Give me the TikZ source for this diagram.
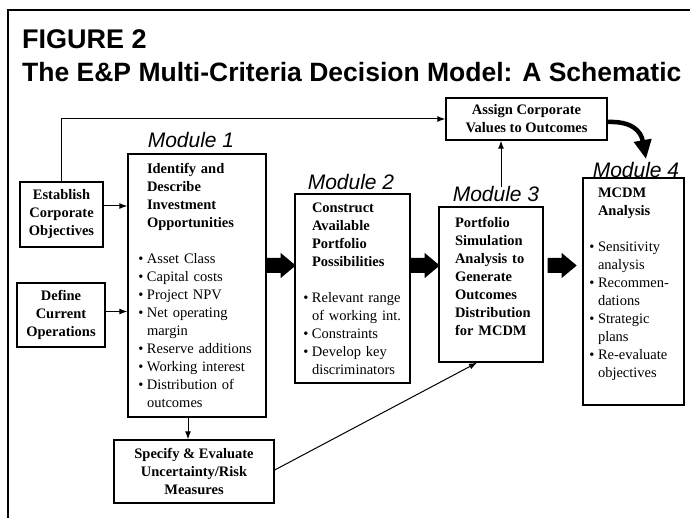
\documentclass[tikz,border=0pt]{standalone}
\usepackage{fontspec}
\setmainfont{Liberation Serif}
\newfontfamily\sansfam{Liberation Sans}
\usetikzlibrary{arrows.meta,calc}

% bullet item with hanging indent
\newcommand\bul{\par\noindent\llap{\textbullet\hspace{3.5pt}}}
\newcommand\tailgap[1]{\par\vspace{#1}\hrule height0pt width0pt}

\tikzset{
  frameline/.style={line width=2pt},
  box/.style={draw, line width=1.4pt, inner sep=0pt, align=center,
    font=\fontsize{14.5}{18}\selectfont\bfseries},
  modbox/.style={draw, line width=1.4pt, inner sep=0pt, align=left,
    font=\fontsize{14.5}{18}\selectfont},
  modlabel/.style={anchor=base, inner sep=0pt,
    font=\sansfam\itshape\fontsize{21}{24}\selectfont},
  heading/.style={anchor=base west, inner sep=0pt, font=\sansfam\bfseries},
  conn/.style={line width=1pt, -{Latex[length=8pt,width=6pt]}},
  bigcurve/.style={line width=4.5pt, -{Triangle[length=19pt,width=17pt]}},
  blockfill/.style={fill=black},
}

% thick block arrow starting at #1, pointing right
\newcommand\blockarrow[1]{%
  \fill[blockfill] (#1) ++(0,-7.5) -- ++(14,0) -- ++(0,-5) -- ++(15,12.5)
    -- ++(-15,12.5) -- ++(0,-5) -- ++(-14,0) -- cycle;}

\begin{document}
\begin{tikzpicture}[x=1pt,y=-1pt]
\useasboundingbox (0,0) rectangle (690,518);

% frame
\draw[frameline] (8,518) -- (8,10) -- (690,10);

% headings
\node[heading, font=\sansfam\bfseries\fontsize{27}{30}\selectfont] (fig) at (22,49) {FIGURE 2};
\node[heading, font=\sansfam\bfseries\fontsize{26.5}{30}\selectfont] (title) at (22,82)
  {The E\&P Multi-Criteria Decision Model: A Schematic};

% input boxes
\node[box, minimum width=83, minimum height=65] (est) at (61.5,214.5)
  {Establish\\Corporate\\Objectives};
\node[box, minimum width=88, minimum height=64] (def) at (61,315)
  {Define\\Current\\Operations};
\node[box, minimum width=160, minimum height=63] (spec) at (194,471.5)
  {Specify \& Evaluate\\Uncertainty/Risk\\Measures};
\node[box, minimum width=161, minimum height=42] (assign) at (526.5,119)
  {Assign Corporate\\Values to Outcomes};

% module boxes
\node[modbox, minimum width=138, minimum height=263, text width=122] (m1) at (197,285.5)
  {\leftskip=11pt
   {\bfseries Identify and\\Describe\\Investment\\Opportunities\par}
   \vspace{18pt}
   \bul Asset Class
   \bul Capital costs
   \bul Project NPV
   \bul Net operating\\margin
   \bul Reserve additions
   \bul Working interest
   \bul Distribution of\\outcomes\par};
\node[modbox, minimum width=115, minimum height=189, text width=101] (m2) at (352.5,288.5)
  {\leftskip=10pt
   {\bfseries Construct\\Available\\Portfolio\\Possibilities\par}
   \vspace{18pt}
   \bul Relevant range\\of working int.
   \bul Constraints
   \bul Develop key\\discriminators\par};
\node[modbox, minimum width=104, minimum height=155, text width=88] (m3) at (491,284.5)
  {\leftskip=8pt
   {\bfseries Portfolio\\Simulation\\Analysis to\\Generate\\Outcomes\\Distribution\\for MCDM\par}
   \tailgap{16pt}};
\node[modbox, minimum width=101, minimum height=227, text width=91] (m4) at (633.5,291.5)
  {\leftskip=10pt
   {\bfseries MCDM\\Analysis\par}
   \vspace{18pt}
   \bul Sensitivity\\analysis
   \bul Recommen-\\dations
   \bul Strategic\\plans
   \bul Re-evaluate\\objectives
   \tailgap{15pt}};

% module labels
\node[modlabel] (lab1) at (191,148) {Module 1};
\node[modlabel] (lab2) at (351,190) {Module 2};
\node[modlabel] (lab3) at (496,202) {Module 3};
\node[modlabel] (lab4) at (636,178) {Module 4};

% thin connectors
\draw[conn] (est.north) -- (est.north |- assign.west) -- (assign.west);
\draw[conn] ([yshift=8.5pt]est.east) -- ([yshift=8.5pt]est.east -| m1.west);
\draw[conn] ([yshift=3.5pt]def.east) -- ([yshift=3.5pt]def.east -| m1.west);
\draw[conn] ([xshift=-9pt]m1.south) -- ([xshift=-9pt]m1.south |- spec.north);
\draw[conn] ([yshift=1.5pt]spec.east) -- ([xshift=-14pt]m3.south);
\draw[conn] ([xshift=5pt]lab3.north) -- ([xshift=5pt]lab3.north |- assign.south);

% thick curved arrow into module 4
\coordinate (m4in) at (646,159);
\draw[bigcurve] ([yshift=-3pt]assign.east) .. controls +(24,-1) and +(-5,-28) .. (m4in);

% block arrows between modules
\coordinate (arow) at (0,265.5);
\blockarrow{m1.east |- arow}
\blockarrow{m2.east |- arow}
\blockarrow{$(m3.east |- arow)+(4,0)$}

\end{tikzpicture}
\end{document}
